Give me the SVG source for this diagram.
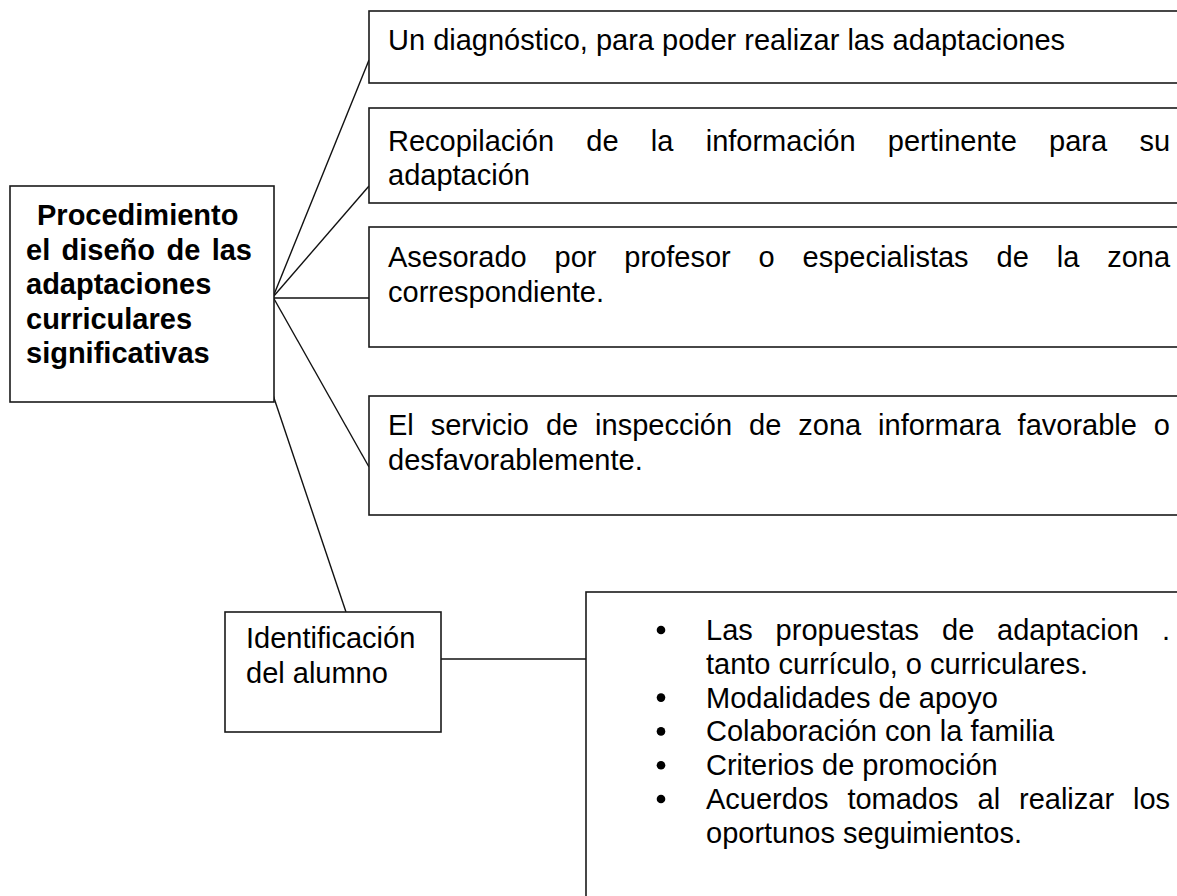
<svg xmlns="http://www.w3.org/2000/svg" width="1177" height="896" viewBox="0 0 1177 896">
<style>
.box{fill:#fff;stroke:#1a1a1a;stroke-width:1.6}
.conn{stroke:#111;stroke-width:1.4;fill:none}
.t{font-family:"Liberation Sans",Arial,sans-serif;font-size:29px;fill:#000}
.b{font-weight:bold}
.dot{fill:#000}
</style>
<rect width="1177" height="896" fill="#fff"/>
<g id="connectors">
<line class="conn" x1="273" y1="297" x2="369" y2="60"/>
<line class="conn" x1="273" y1="297" x2="369" y2="186"/>
<line class="conn" x1="273" y1="298" x2="369" y2="298"/>
<line class="conn" x1="273" y1="297" x2="369" y2="467"/>
<line class="conn" x1="273" y1="395" x2="346" y2="612"/>
<line class="conn" x1="441" y1="659" x2="586" y2="659"/>
</g>
<g id="main">
<rect class="box" x="10" y="186" width="264" height="216"/>
<text class="t b" x="37" y="225">Procedimiento</text>
<text class="t b" y="259.5"><tspan x="26">el</tspan><tspan x="61.6">diseño</tspan><tspan x="166.5">de</tspan><tspan x="211.7">las</tspan></text>
<text class="t b" x="26" y="294">adaptaciones</text>
<text class="t b" x="26" y="328.5">curriculares</text>
<text class="t b" x="26" y="363">significativas</text>
</g>
<g id="n1">
<rect class="box" x="369" y="11" width="830" height="72"/>
<text class="t" x="388" y="50">Un diagnóstico, para poder realizar las adaptaciones</text>
</g>
<g id="n2">
<rect class="box" x="369" y="108" width="830" height="95"/>
<text class="t" y="151"><tspan x="388">Recopilación</tspan><tspan x="586.3">de</tspan><tspan x="650.8">la</tspan><tspan x="705.7">información</tspan><tspan x="887.8">pertinente</tspan><tspan x="1049.1">para</tspan><tspan x="1139.4">su</tspan></text>
<text class="t" x="388" y="185">adaptación</text>
</g>
<g id="n3">
<rect class="box" x="369" y="227" width="830" height="120"/>
<text class="t" y="267"><tspan x="388">Asesorado</tspan><tspan x="554.5">por</tspan><tspan x="624.3">profesor</tspan><tspan x="758.6">o</tspan><tspan x="802.6">especialistas</tspan><tspan x="996.5">de</tspan><tspan x="1056.7">la</tspan><tspan x="1107.2">zona</tspan></text>
<text class="t" x="388" y="302">correspondiente.</text>
</g>
<g id="n4">
<rect class="box" x="369" y="396" width="830" height="119"/>
<text class="t" y="435"><tspan x="388">El</tspan><tspan x="430.7">servicio</tspan><tspan x="545.9">de</tspan><tspan x="595.1">inspección</tspan><tspan x="749.1">de</tspan><tspan x="798.3">zona</tspan><tspan x="878.1">informara</tspan><tspan x="1017.6">favorable</tspan><tspan x="1153.8">o</tspan></text>
<text class="t" x="388" y="470">desfavorablemente.</text>
</g>
<g id="n5">
<rect class="box" x="225" y="612" width="216" height="120"/>
<text class="t" x="246" y="648">Identificación</text>
<text class="t" x="246" y="683">del alumno</text>
</g>
<g id="n6">
<rect class="box" x="586" y="592" width="620" height="330"/>
<circle class="dot" cx="661" cy="630" r="4.3"/>
<text class="t" y="640"><tspan x="706">Las</tspan><tspan x="775.6">propuestas</tspan><tspan x="942">de</tspan><tspan x="997.1">adaptacion</tspan><tspan x="1161.9">.</tspan></text>
<text class="t" x="706" y="674">tanto currículo, o curriculares.</text>
<circle class="dot" cx="661" cy="697.6" r="4.3"/>
<text class="t" x="706" y="707.6">Modalidades de apoyo</text>
<circle class="dot" cx="661" cy="731.4" r="4.3"/>
<text class="t" x="706" y="741.4">Colaboración con la familia</text>
<circle class="dot" cx="661" cy="765.2" r="4.3"/>
<text class="t" x="706" y="775.2">Criterios de promoción</text>
<circle class="dot" cx="661" cy="799" r="4.3"/>
<text class="t" y="809"><tspan x="706">Acuerdos</tspan><tspan x="847.4">tomados</tspan><tspan x="977.5">al</tspan><tspan x="1019">realizar</tspan><tspan x="1133">los</tspan></text>
<text class="t" x="706" y="843">oportunos seguimientos.</text>
</g>
</svg>
